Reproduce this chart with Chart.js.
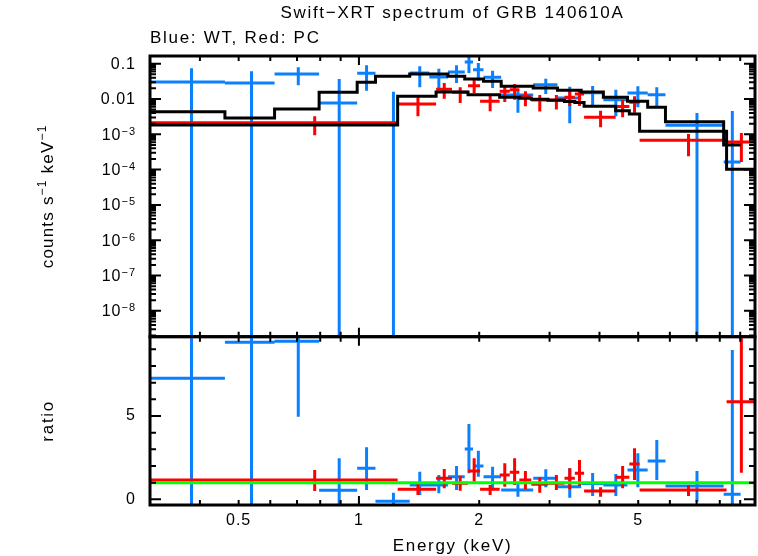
<!DOCTYPE html>
<html>
<head>
<meta charset="utf-8">
<script src="https://cdn.jsdelivr.net/npm/chart.js@4.4.0/dist/chart.umd.min.js"></script>
<style>
  body { margin: 0; background: #fff; }
  #wrap { position: relative; width: 758px; height: 556px; font-family: 'Liberation Sans', Arial, sans-serif; }
  canvas { position: absolute; left: 0; top: 0; }
  .lbl { position: absolute; font-size: 17px; color: #000; white-space: nowrap; line-height: 18px; letter-spacing: 1.7px; }
</style>
</head>
<body>
<div id="wrap">
  <canvas id="specChart" width="758" height="556"></canvas>
  <canvas id="ratioChart" width="758" height="556"></canvas>
  <div class="lbl" style="left:150px;width:605px;text-align:center;top:4px">Swift−XRT spectrum of GRB 140610A</div>
  <div class="lbl" style="left:150px;top:29px">Blue: WT, Red: PC</div>
</div>
<script>
// WT (blu): bordi dei canali in keV, conteggi, errori, modello e rapporto
const wtLo = [0.30, 0.462, 0.615, 0.795, 0.99, 1.10, 1.34, 1.50, 1.67, 1.84, 1.93, 2.05, 2.27, 2.73, 3.14, 3.60, 4.09, 4.70, 5.28, 5.85, 8.18];
const wtHi = [0.462, 0.615, 0.795, 0.99, 1.10, 1.34, 1.50, 1.67, 1.84, 1.93, 2.05, 2.27, 2.73, 3.14, 3.60, 4.09, 4.70, 5.28, 5.85, 8.18, 9.02];
const wtRate = [0.0303, 0.0284, 0.0511, 0.0077, 0.0534, -0.0053, 0.0546, 0.042, 0.0582, 0.1117, 0.0676, 0.0412, 0.0130, 0.0254, 0.0107, 0.0150, 0.00955, 0.0148, 0.0132, 0.0018, 0.000164];
const wtRateHi = [0.0741, 0.061, 0.0791, 0.0369, 0.090, 0.0161, 0.0844, 0.072, 0.090, 0.17, 0.105, 0.0634, 0.0192, 0.0376, 0.0223, 0.0233, 0.0183, 0.0229, 0.0214, 0.0040, 0.00457];
const wtRateLo = [0, 0, 0.0244, 0, 0.0172, 0, 0.0214, 0.0205, 0.0284, 0.0546, 0.033, 0.0205, 0.0041, 0.0139, 0.00205, 0.0068, 0.00324, 0.00582, 0.0062, 0, 0];
const wtModel = [0.00436, 0.0029, 0.00521, 0.0155, 0.0297, 0.044, 0.051, 0.051, 0.044, 0.0369, 0.0369, 0.0316, 0.0229, 0.0205, 0.0176, 0.0158, 0.0112, 0.0086, 0.00582, 0.00225, 0.0005];
const wtRatio = [7.26, 9.42, 9.48, 0.54, 1.86, -0.12, 0.86, 0.86, 1.36, 3.02, 2.0, 1.36, 0.56, 1.26, 0.75, 0.95, 0.86, 1.76, 2.30, 0.80, 0.30];
const wtRatioHi = [12, 15, 12, 2.46, 3.12, 0.40, 1.66, 1.46, 2.0, 4.52, 2.92, 1.96, 0.96, 1.8, 1.86, 1.58, 1.52, 2.76, 3.56, 1.70, 8.96];
const wtRatioLo = [-2, -3, 4.96, -1, 0.56, -1, 0.26, 0.36, 0.56, 1.56, 1.36, 0.56, 0.16, 0.72, 0.1, 0.2, 0.2, 0.72, 1.16, -0.14, -1];

// PC (rosso)
const pcLo = [0.30, 1.25, 1.56, 1.71, 1.875, 2.01, 2.25, 2.385, 2.52, 2.70, 2.97, 3.27, 3.47, 3.66, 4.39, 4.75, 5.04, 8.32];
const pcHi = [1.25, 1.56, 1.71, 1.875, 2.01, 2.25, 2.385, 2.52, 2.70, 2.97, 3.27, 3.47, 3.66, 4.39, 4.75, 5.04, 8.32, 9.80];
const pcRate = [0.00213, 0.00722, 0.0188, 0.0155, 0.0238, 0.0086, 0.0165, 0.0183, 0.0119, 0.00937, 0.00937, 0.0112, 0.0139, 0.00303, 0.00614, 0.00807, 0.00068, 0.000605];
const pcRateHi = [0.00324, 0.0112, 0.0284, 0.0214, 0.0352, 0.0132, 0.0244, 0.0266, 0.0165, 0.013, 0.013, 0.0161, 0.0192, 0.00467, 0.00937, 0.0119, 0.00102, 0.00109];
const pcRateLo = [0.00094, 0.00324, 0.0102, 0.0077, 0.0148, 0.0045, 0.0082, 0.0095, 0.0062, 0.00443, 0.00505, 0.00634, 0.00634, 0.00158, 0.00303, 0.00407, 0.00024, 0.000165];
const pcModel = [0.00183, 0.0119, 0.0158, 0.0158, 0.0132, 0.0132, 0.0112, 0.0112, 0.0105, 0.0098, 0.0092, 0.0085, 0.0080, 0.0062, 0.00467, 0.00376, 0.00121, 0.000103];
const pcRatio = [1.16, 0.6, 1.26, 0.96, 1.7, 0.6, 1.46, 1.62, 1.16, 0.9, 0.96, 1.26, 1.56, 0.5, 1.32, 2.12, 0.56, 5.86];
const pcRatioHi = [1.76, 1.0, 1.82, 1.4, 2.46, 0.86, 2.16, 2.46, 1.7, 1.32, 1.46, 1.86, 2.36, 0.72, 2.0, 3.06, 0.86, 12];
const pcRatioLo = [0.5, 0.26, 0.66, 0.52, 1.06, 0.26, 0.76, 0.86, 0.6, 0.4, 0.56, 0.6, 0.8, 0.16, 0.66, 1.16, 0.2, 1.6];

// assi
const xRange = [0.3, 9.8];
const specRange = [1.85e-9, 0.165];
const ratioRange = [-0.34, 9.76];
const xTickValues = [0.5, 1, 2, 5];
const xTickLabels = ['0.5', '1', '2', '5'];
const specTickValues = [1e-8, 1e-7, 1e-6, 1e-5, 1e-4, 1e-3, 0.01, 0.1];
// [mantissa, esponente]; esponente vuoto = etichetta semplice
const specTickLabels = [['10', '−8'], ['10', '−7'], ['10', '−6'], ['10', '−5'], ['10', '−4'], ['10', '−3'], ['0.01', ''], ['0.1', '']];
const ratioTickValues = [0, 5];
const ratioTickLabels = ['0', '5'];

const BLUE = '#0a80ff';
const RED = '#ff0000';
const GREEN = '#00ff00';
const FAMILY = "'Liberation Sans', Arial, sans-serif";
const FONT = { family: FAMILY, size: 16 };
const LOG_FLOOR = 1e-12; // sotto il minimo dell'asse: la barra arriva al bordo

// Croci di errore come linee con interruzioni (y null)
function hBars(lo, hi, val, logScale) {
    const pts = [];
    for (let i = 0; i < lo.length; i++) {
        if (logScale && val[i] <= 0) continue;
        pts.push({ x: lo[i], y: val[i] }, { x: hi[i], y: val[i] }, { x: hi[i], y: null });
    }
    return pts;
}

function vBars(lo, hi, up, dn, logScale) {
    const pts = [];
    for (let i = 0; i < lo.length; i++) {
        const c = (lo[i] + hi[i]) / 2;
        const bottom = logScale ? Math.max(dn[i], LOG_FLOOR) : dn[i];
        pts.push({ x: c, y: bottom }, { x: c, y: up[i] }, { x: c, y: null });
    }
    return pts;
}

function steps(lo, hi, model) {
    const pts = lo.map((e, i) => ({ x: e, y: model[i] }));
    pts.push({ x: hi[hi.length - 1], y: model[model.length - 1] });
    return pts;
}

function lineSet(data, color, extra) {
    return Object.assign({
        data: data,
        borderColor: color,
        borderWidth: 3,
        pointRadius: 0,
        fill: false,
        tension: 0,
        spanGaps: false,
        borderCapStyle: 'butt',
        clip: 0
    }, extra || {});
}

// Testo con apici: parts = [[testo, dimensione, rialzo], ...]
function drawRich(ctx, parts, x, y, rotation, align, spacing) {
    ctx.save();
    ctx.letterSpacing = spacing + 'px';
    let width = 0;
    parts.forEach(p => {
        ctx.font = p[1] + 'px ' + FAMILY;
        width += ctx.measureText(p[0]).width;
    });
    ctx.translate(x, y);
    ctx.rotate(rotation);
    let cx = align === 'right' ? -width : -width / 2;
    ctx.textBaseline = 'alphabetic';
    ctx.textAlign = 'left';
    parts.forEach(p => {
        ctx.font = p[1] + 'px ' + FAMILY;
        ctx.fillText(p[0], cx, 5.5 - p[2]);
        cx += ctx.measureText(p[0]).width;
    });
    ctx.restore();
}

// Titoli degli assi ed etichette logaritmiche
const axisText = {
    id: 'axisText',
    beforeDraw(chart) {
        chart.ctx.letterSpacing = '1px';
    },
    afterDraw(chart, args, opts) {
        const { ctx, chartArea: a } = chart;
        ctx.save();
        ctx.fillStyle = '#000';
        if (opts.yTitle) drawRich(ctx, opts.yTitle, 47, (a.top + a.bottom) / 2, -Math.PI / 2, 'center', opts.yTitleSpacing);
        if (opts.xTitle) drawRich(ctx, opts.xTitle, (a.left + a.right) / 2, 545, 0, 'center', 1.7);
        if (opts.yLabels) {
            opts.yLabels.forEach((lab, i) => {
                const py = chart.scales.y.getPixelForValue(opts.yValues[i]);
                const parts = [[lab[0], 16, 0]];
                if (lab[1]) parts.push([lab[1], 11, 5]);
                drawRich(ctx, parts, a.left - 14, py, 0, 'right', 1);
            });
        }
        ctx.restore();
    }
};

// Cornice e tacche interne su tutti i lati
const frameTicks = {
    id: 'frameTicks',
    afterDatasetsDraw(chart, args, opts) {
        const { ctx, chartArea: a, scales } = chart;
        const xs = scales.x, ys = scales.y;
        ctx.save();
        ctx.strokeStyle = '#000';
        ctx.lineWidth = 2;
        ctx.beginPath();
        const xt = opts.xMinor.map(v => [v, 5]).concat(opts.xMajor.map(v => [v, 9]));
        xt.forEach(([v, len]) => {
            const px = xs.getPixelForValue(v);
            ctx.moveTo(px, a.top); ctx.lineTo(px, a.top + len);
            ctx.moveTo(px, a.bottom); ctx.lineTo(px, a.bottom - len);
        });
        const yt = opts.yMinor.map(v => [v, 6]).concat(opts.yMajor.map(v => [v, 11]));
        yt.forEach(([v, len]) => {
            const py = ys.getPixelForValue(v);
            if (py < a.top || py > a.bottom) return;
            ctx.moveTo(a.left, py); ctx.lineTo(a.left + len, py);
            ctx.moveTo(a.right, py); ctx.lineTo(a.right - len, py);
        });
        ctx.stroke();
        ctx.lineWidth = 3;
        ctx.strokeRect(a.left, a.top, a.right - a.left, a.bottom - a.top);
        ctx.restore();
    }
};

const xMinor = [0.4, 0.5, 0.6, 0.7, 0.8, 0.9, 2, 3, 4, 5, 6, 7, 8, 9];
const xMajor = [1];
const specMinor = [];
for (let d = -9; d <= -1; d++) {
    for (let k = 2; k <= 9; k++) specMinor.push(k * Math.pow(10, d));
}

function yAxis(range, type, values, labels, showTicks) {
    return {
        type: type,
        min: range[0],
        max: range[1],
        afterFit: s => { s.width = 150; },
        afterBuildTicks: s => { s.ticks = values.map(v => ({ value: v })); },
        grid: { display: false, drawTicks: false },
        border: { display: false },
        ticks: {
            display: showTicks,
            autoSkip: false,
            padding: 14,
            color: '#000',
            font: FONT,
            callback: (v, i) => labels[i]
        }
    };
}

const baseOptions = {
    responsive: false,
    animation: false,
    events: []
};

// pannello superiore: spettro
new Chart(document.getElementById('specChart').getContext('2d'), {
    type: 'line',
    data: {
        datasets: [
            lineSet(steps(wtLo, wtHi, wtModel), '#000', { stepped: 'before' }),
            lineSet(steps(pcLo, pcHi, pcModel), '#000', { stepped: 'before' }),
            lineSet(hBars(pcLo, pcHi, pcRate, true), RED),
            lineSet(vBars(pcLo, pcHi, pcRateHi, pcRateLo, true), RED),
            lineSet(hBars(wtLo, wtHi, wtRate, true), BLUE),
            lineSet(vBars(wtLo, wtHi, wtRateHi, wtRateLo, true), BLUE)
        ]
    },
    options: Object.assign({}, baseOptions, {
        layout: { padding: { top: 56, bottom: 219.3, left: 0, right: 3 } },
        plugins: {
            legend: { display: false },
            tooltip: { enabled: false },
            frameTicks: { xMinor: xMinor, xMajor: xMajor, yMinor: specMinor, yMajor: specTickValues },
            axisText: {
                yTitle: [['counts s', 17, 0], ['−1', 12, 7], [' keV', 17, 0], ['−1', 12, 7]],
                yTitleSpacing: 1.2,
                yLabels: specTickLabels,
                yValues: specTickValues
            }
        },
        scales: {
            x: { type: 'logarithmic', min: xRange[0], max: xRange[1], display: false },
            y: yAxis(specRange, 'logarithmic', specTickValues, specTickValues.map(String), false)
        }
    }),
    plugins: [frameTicks, axisText]
});

// pannello inferiore: rapporto dati/modello
new Chart(document.getElementById('ratioChart').getContext('2d'), {
    type: 'line',
    data: {
        datasets: [
            lineSet([{ x: xRange[0], y: 1 }, { x: xRange[1], y: 1 }], GREEN),
            lineSet(hBars(pcLo, pcHi, pcRatio, false), RED),
            lineSet(vBars(pcLo, pcHi, pcRatioHi, pcRatioLo, false), RED),
            lineSet(hBars(wtLo, wtHi, wtRatio, false), BLUE),
            lineSet(vBars(wtLo, wtHi, wtRatioHi, wtRatioLo, false), BLUE)
        ]
    },
    options: Object.assign({}, baseOptions, {
        layout: { padding: { top: 336.7, bottom: 0, left: 0, right: 3 } },
        plugins: {
            legend: { display: false },
            tooltip: { enabled: false },
            frameTicks: { xMinor: xMinor, xMajor: xMajor, yMinor: [1, 2, 3, 4, 6, 7, 8, 9], yMajor: ratioTickValues },
            axisText: {
                yTitle: [['ratio', 17, 0]],
                yTitleSpacing: 1.7,
                xTitle: [['Energy (keV)', 17, 0]]
            }
        },
        scales: {
            x: {
                type: 'logarithmic',
                min: xRange[0],
                max: xRange[1],
                afterFit: s => { s.height = 51; },
                afterBuildTicks: s => { s.ticks = xTickValues.map(v => ({ value: v })); },
                grid: { display: false, drawTicks: false },
                border: { display: false },
                ticks: {
                    autoSkip: false,
                    maxRotation: 0,
                    padding: 6,
                    color: '#000',
                    font: FONT,
                    callback: (v, i) => xTickLabels[i]
                }
            },
            y: yAxis(ratioRange, 'linear', ratioTickValues, ratioTickLabels, true)
        }
    }),
    plugins: [frameTicks, axisText]
});
</script>
</body>
</html>
